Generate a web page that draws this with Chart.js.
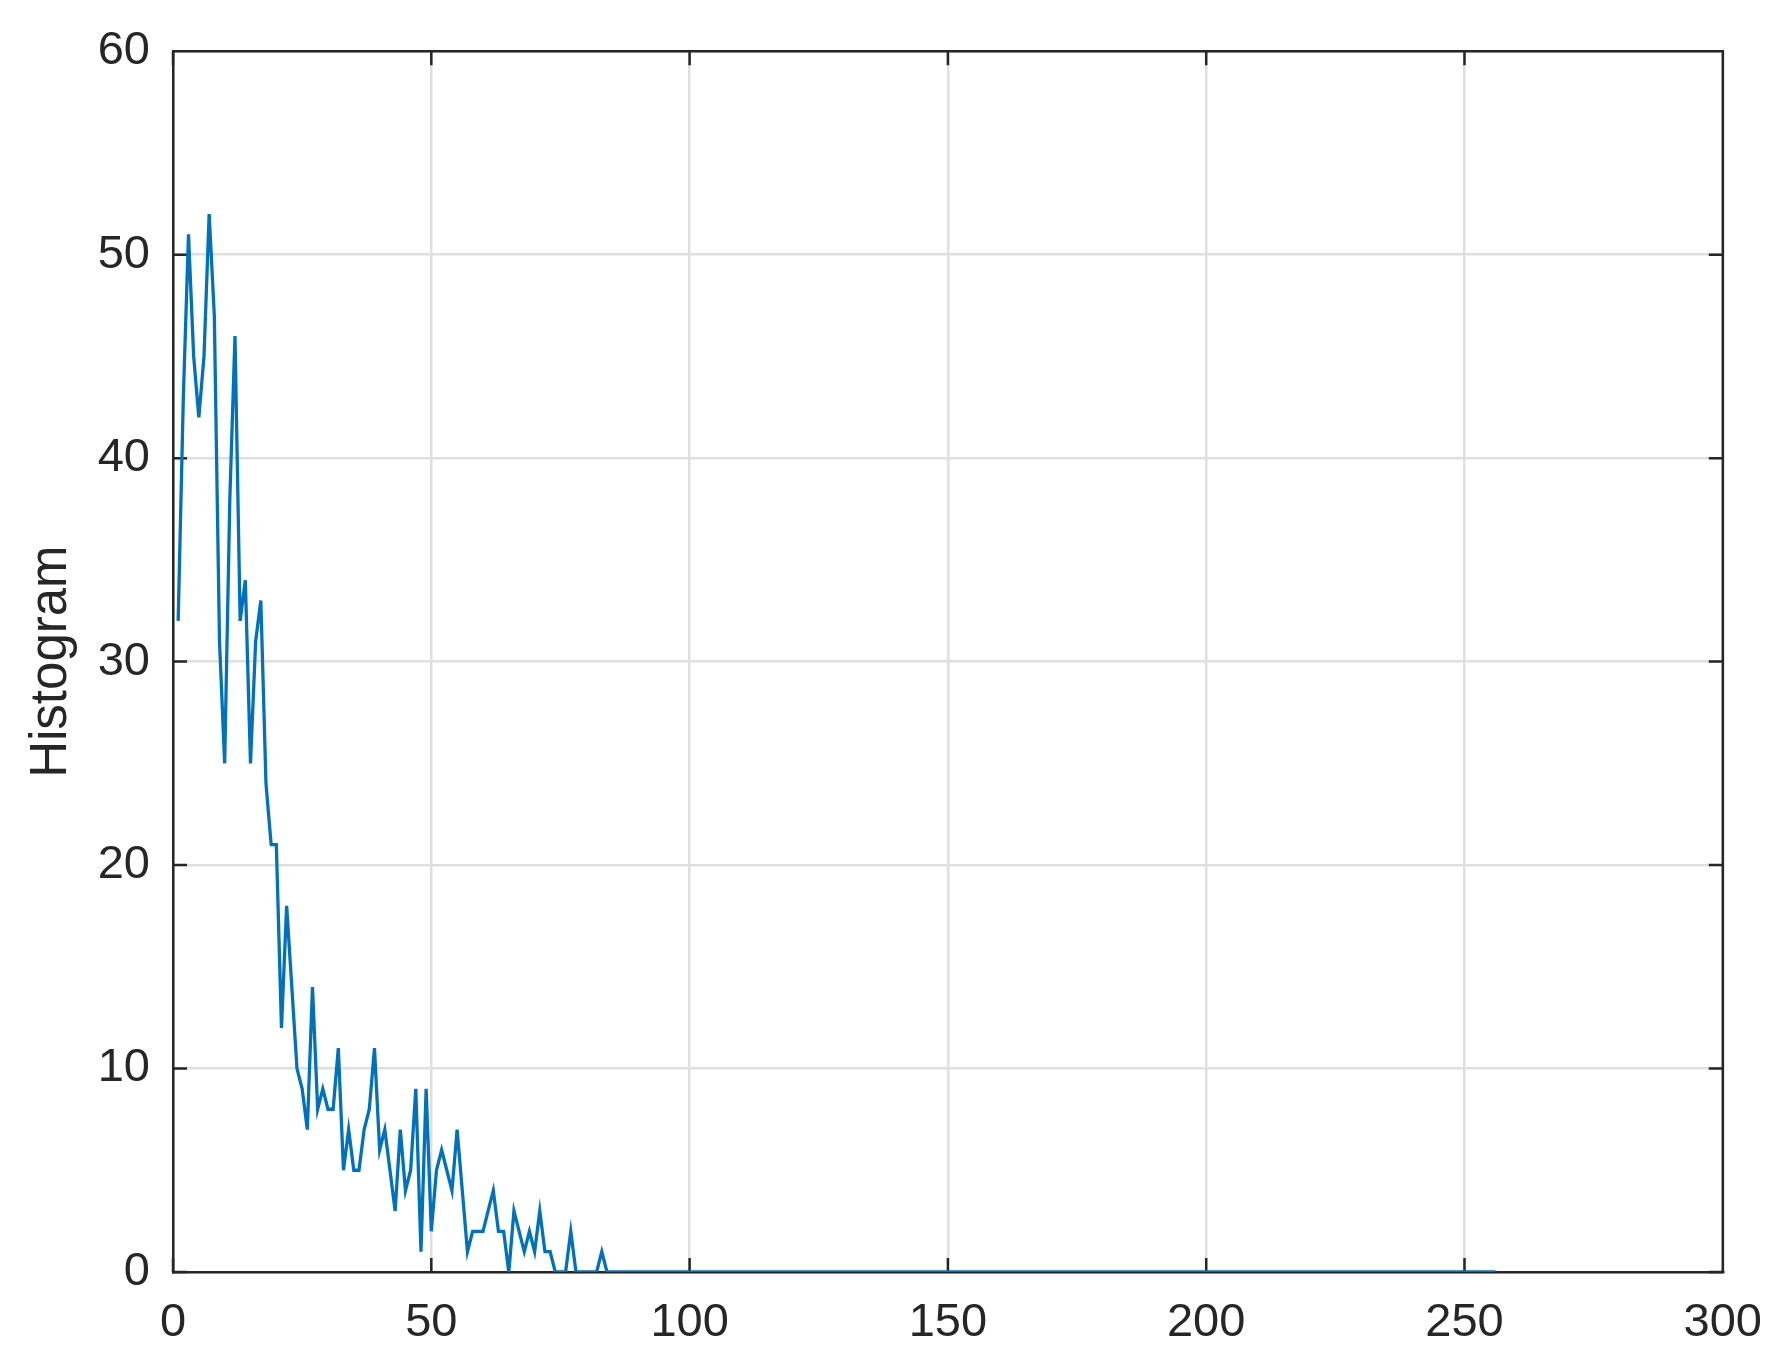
<!DOCTYPE html>
<html>
<head>
<meta charset="utf-8">
<script src="https://cdn.jsdelivr.net/npm/chart.js@4"></script>
<style>
  html, body { margin: 0; padding: 0; background: #fff; }
  canvas { display: block; }
</style>
</head>
<body>
<canvas id="histChart" width="1785" height="1361"></canvas>
<script>
// histogram counts for intensity bins 1..256
const counts = [
  32, 43, 51, 45, 42, 45, 52, 47, 31, 25,
  38, 46, 32, 34, 25, 31, 33, 24, 21, 21,
  12, 18, 14, 10, 9, 7, 14, 8, 9, 8,
  8, 11, 5, 7, 5, 5, 7, 8, 11, 6,
  7, 5, 3, 7, 4, 5, 9, 1, 9, 2,
  5, 6, 5, 4, 7, 4, 1, 2, 2, 2,
  3, 4, 2, 2, 0, 3, 2, 1, 2, 1,
  3, 1, 1, 0, 0, 0, 2, 0, 0, 0,
  0, 0, 1, 0, 0, 0, 0, 0, 0, 0,
  0, 0, 0, 0, 0, 0, 0, 0, 0, 0,
  0, 0, 0, 0, 0, 0, 0, 0, 0, 0,
  0, 0, 0, 0, 0, 0, 0, 0, 0, 0,
  0, 0, 0, 0, 0, 0, 0, 0, 0, 0,
  0, 0, 0, 0, 0, 0, 0, 0, 0, 0,
  0, 0, 0, 0, 0, 0, 0, 0, 0, 0,
  0, 0, 0, 0, 0, 0, 0, 0, 0, 0,
  0, 0, 0, 0, 0, 0, 0, 0, 0, 0,
  0, 0, 0, 0, 0, 0, 0, 0, 0, 0,
  0, 0, 0, 0, 0, 0, 0, 0, 0, 0,
  0, 0, 0, 0, 0, 0, 0, 0, 0, 0,
  0, 0, 0, 0, 0, 0, 0, 0, 0, 0,
  0, 0, 0, 0, 0, 0, 0, 0, 0, 0,
  0, 0, 0, 0, 0, 0, 0, 0, 0, 0,
  0, 0, 0, 0, 0, 0, 0, 0, 0, 0,
  0, 0, 0, 0, 0, 0, 0, 0, 0, 0,
  0, 0, 0, 0, 0, 0
];
const bins = counts.map((_, i) => i + 1);

const xTicks = [0, 50, 100, 150, 200, 250, 300];
const yTicks = [0, 10, 20, 30, 40, 50, 60];
const yLabel = 'Histogram';

const axisColor = '#262626';
const fontFamily = "Arial, 'Liberation Sans', Helvetica, sans-serif";

// matlab style box: top/right edges plus inward tick marks on all sides
const boxPlugin = {
    id: 'boxPlugin',
    beforeDatasetsDraw(chart) {
        const { ctx, chartArea: a, scales: { x, y } } = chart;
        const len = 14;
        ctx.save();
        ctx.strokeStyle = axisColor;
        ctx.lineWidth = 2.5;
        ctx.beginPath();
        ctx.moveTo(a.left, a.top);
        ctx.lineTo(a.right, a.top);
        ctx.lineTo(a.right, a.bottom);
        xTicks.forEach(v => {
            const px = x.getPixelForValue(v);
            ctx.moveTo(px, a.bottom);
            ctx.lineTo(px, a.bottom - len);
            ctx.moveTo(px, a.top);
            ctx.lineTo(px, a.top + len);
        });
        yTicks.forEach(v => {
            const py = y.getPixelForValue(v);
            ctx.moveTo(a.left, py);
            ctx.lineTo(a.left + len, py);
            ctx.moveTo(a.right, py);
            ctx.lineTo(a.right - len, py);
        });
        ctx.stroke();
        ctx.restore();
    }
};

const ctx = document.getElementById('histChart');

new Chart(ctx, {
    type: 'line',
    data: {
        datasets: [{
            data: bins.map((b, i) => ({ x: b, y: counts[i] })),
            borderColor: '#0072BD',
            borderWidth: 3.3,
            pointRadius: 0,
            tension: 0,
            fill: false
        }]
    },
    options: {
        responsive: false,
        animation: false,
        devicePixelRatio: 1,
        layout: { padding: { left: 0, right: 60, top: 50, bottom: 0 } },
        plugins: {
            legend: { display: false },
            tooltip: { enabled: false }
        },
        scales: {
            x: {
                type: 'linear',
                min: 0,
                max: 300,
                afterBuildTicks: s => { s.ticks = xTicks.map(v => ({ value: v })); },
                afterFit: s => { s.height = 89; },
                ticks: {
                    color: axisColor,
                    padding: 23,
                    maxRotation: 0,
                    font: { family: fontFamily, size: 47 }
                },
                grid: {
                    color: '#dfdfdf',
                    lineWidth: 2.5,
                    drawTicks: false
                },
                border: { color: axisColor, width: 2.5 }
            },
            y: {
                min: 0,
                max: 60,
                afterBuildTicks: s => { s.ticks = yTicks.map(v => ({ value: v })); },
                afterFit: s => { s.width = 173; },
                ticks: {
                    color: axisColor,
                    padding: 23,
                    font: { family: fontFamily, size: 47 }
                },
                grid: {
                    color: '#dfdfdf',
                    lineWidth: 2.5,
                    drawTicks: false
                },
                border: { color: axisColor, width: 2.5 },
                title: {
                    display: true,
                    text: yLabel,
                    color: axisColor,
                    padding: { top: 21, bottom: 0 },
                    font: { family: fontFamily, size: 51, weight: 'normal' }
                }
            }
        }
    },
    plugins: [boxPlugin]
});
</script>
</body>
</html>
